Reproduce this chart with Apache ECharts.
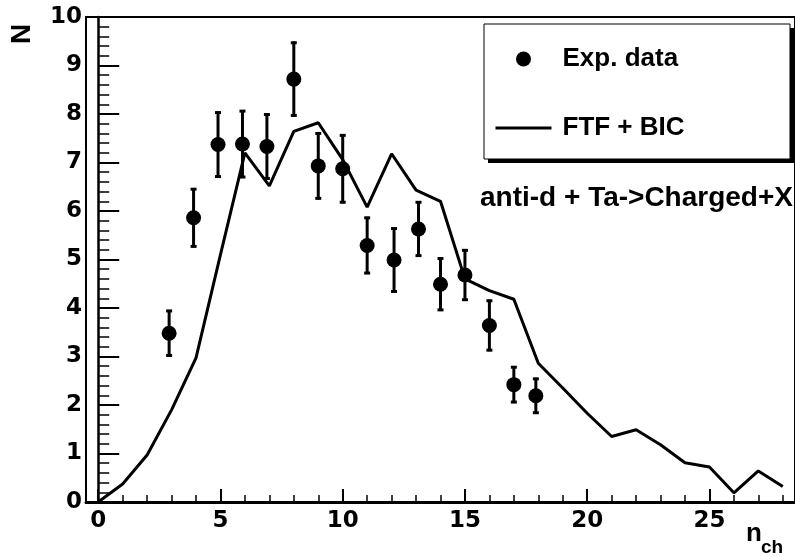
<!DOCTYPE html>
<html>
<head>
<meta charset="utf-8">
<script src="https://cdn.jsdelivr.net/npm/echarts@6.0.0/dist/echarts.min.js"></script>
<style>
  html, body { margin: 0; padding: 0; background: #fff; }
  #main { width: 795px; height: 556px; }
</style>
</head>
<body>
<div id="main"></div>
<script>
// experimental points (n_ch, N, error)
const expX = [2.9, 3.9, 4.9, 5.9, 6.9, 8.0, 9.0, 10.0, 11.0, 12.1, 13.1, 14.0, 15.0, 16.0, 17.0, 17.9];
const expY = [3.48, 5.86, 7.37, 7.38, 7.33, 8.72, 6.93, 6.87, 5.29, 4.99, 5.63, 4.49, 4.68, 3.64, 2.42, 2.19];
const expErr = [0.48, 0.61, 0.68, 0.70, 0.68, 0.77, 0.69, 0.71, 0.59, 0.67, 0.57, 0.55, 0.53, 0.53, 0.38, 0.37];

// FTF + BIC model curve
const ftfX = [0, 1, 2, 3, 4, 5, 6, 7, 8, 9, 10, 11, 12, 13, 14, 15, 16, 17, 18, 19, 20, 21, 22, 23, 24, 25, 26, 27, 28];
const ftfY = [0.0, 0.37, 0.97, 1.90, 2.97, 5.1, 7.2, 6.52, 7.64, 7.82, 7.06, 6.08, 7.18, 6.43, 6.2, 4.6, 4.36, 4.18, 2.86, 2.35, 1.83, 1.35, 1.49, 1.18, 0.81, 0.72, 0.19, 0.64, 0.32];

const xMajor = [0, 5, 10, 15, 20, 25];
const xMinor = ftfX;

const myChart = echarts.init(document.getElementById('main'));
const tickFont = { fontFamily: 'DejaVu Sans', fontWeight: 'bold', fontSize: 23, color: '#000' };
const textFont = 'bold 26px "Liberation Sans", Arial, sans-serif';

const option = {
  animation: false,
  grid: {
    left: 86, top: 17, width: 713, height: 485,
    show: true, borderColor: '#000', borderWidth: 2
  },
  xAxis: [{
    type: 'value', min: -0.5, max: 28.5,
    splitLine: { show: false },
    axisLine: { onZero: false, lineStyle: { color: '#000', width: 3 } },
    axisTick: { inside: true, length: 13, customValues: xMajor, lineStyle: { color: '#000', width: 2 } },
    axisLabel: Object.assign({ customValues: xMajor, margin: 8 }, tickFont)
  }, {
    type: 'value', min: -0.5, max: 28.5, position: 'bottom',
    splitLine: { show: false },
    axisLine: { show: false, onZero: false },
    axisTick: { inside: true, length: 7, customValues: xMinor, lineStyle: { color: '#000', width: 1.5 } },
    axisLabel: { show: false }
  }],
  yAxis: {
    type: 'value', min: 0, max: 10, interval: 1,
    splitLine: { show: false },
    axisLine: { lineStyle: { color: '#000', width: 2.5 } },
    axisTick: { inside: true, length: 21, lineStyle: { color: '#000', width: 2 } },
    minorTick: { show: true, splitNumber: 5, length: 11, lineStyle: { color: '#000', width: 1.5 } },
    axisLabel: Object.assign({ margin: 4 }, tickFont)
  },
  legend: {
    orient: 'vertical', left: 494, top: 44, padding: 0,
    itemWidth: 56, itemHeight: 15, itemGap: 39,
    selectedMode: false,
    textStyle: {
      fontFamily: 'Liberation Sans', fontWeight: 'bold', fontSize: 26, color: '#000',
      lineHeight: 30, padding: [0, 0, 0, 6]
    },
    data: [
      { name: 'Exp. data', itemStyle: { opacity: 1 } },
      { name: 'FTF + BIC', itemStyle: { opacity: 0 }, lineStyle: { width: 3 } }
    ]
  },
  graphic: [
    { type: 'rect', z: 3, shape: { x: 488, y: 28, width: 306, height: 135 }, style: { fill: '#000' } },
    { type: 'rect', z: 3, shape: { x: 484, y: 24, width: 306, height: 135 }, style: { fill: '#fff', stroke: '#000', lineWidth: 1 } },
    { type: 'text', z: 5, x: 793, y: 198, style: { text: 'anti-d + Ta->Charged+X', font: 'bold 28px "Liberation Sans", Arial, sans-serif', fill: '#000', textAlign: 'right', textVerticalAlign: 'middle' } },
    { type: 'text', z: 5, x: 22, y: 34, rotation: Math.PI / 2, style: { text: 'N', font: 'bold 28px "Liberation Sans", Arial, sans-serif', fill: '#000', textAlign: 'center', textVerticalAlign: 'middle' } },
    { type: 'text', z: 5, x: 746, y: 534, style: { text: 'n', font: textFont, fill: '#000', textAlign: 'left', textVerticalAlign: 'middle' } },
    { type: 'text', z: 5, x: 761, y: 548, style: { text: 'ch', font: 'bold 19px "Liberation Sans", Arial, sans-serif', fill: '#000', textAlign: 'left', textVerticalAlign: 'middle' } }
  ],
  series: [{
    name: 'Exp. data',
    type: 'scatter',
    symbol: 'circle',
    symbolSize: 15,
    itemStyle: { color: '#000', opacity: 1 },
    z: 4,
    data: expX.map((x, i) => [x, expY[i]])
  }, {
    name: 'errors',
    type: 'custom',
    z: 3,
    encode: { x: 0, y: 1 },
    renderItem: (params, api) => {
      const x = api.value(0), y = api.value(1), e = api.value(2);
      const top = api.coord([x, y + e]);
      const bot = api.coord([x, y - e]);
      const st = { stroke: '#000', lineWidth: 3 };
      return {
        type: 'group',
        children: [
          { type: 'line', shape: { x1: top[0], y1: top[1], x2: bot[0], y2: bot[1] }, style: st },
          { type: 'line', shape: { x1: top[0] - 3, y1: top[1] + 1, x2: top[0] + 3, y2: top[1] + 1 }, style: st },
          { type: 'line', shape: { x1: bot[0] - 3, y1: bot[1] - 1, x2: bot[0] + 3, y2: bot[1] - 1 }, style: st }
        ]
      };
    },
    data: expX.map((x, i) => [x, expY[i], expErr[i]])
  }, {
    name: 'FTF + BIC',
    type: 'line',
    symbol: 'none',
    lineStyle: { color: '#000', width: 3 },
    itemStyle: { color: '#000' },
    z: 2,
    data: ftfX.map((x, i) => [x, ftfY[i]])
  }]
};
myChart.setOption(option);
</script>
</body>
</html>
